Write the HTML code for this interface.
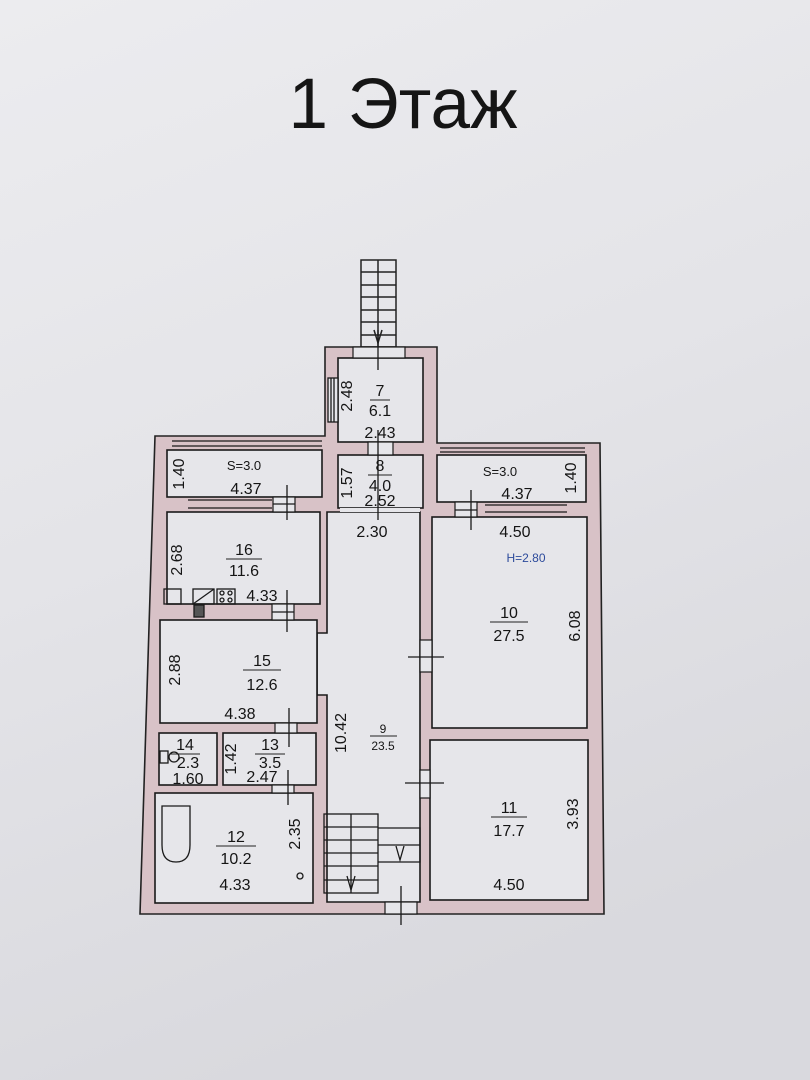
<!DOCTYPE html>
<html><head><meta charset="utf-8"><style>
html,body{margin:0;padding:0;width:810px;height:1080px;overflow:hidden}
svg{display:block}
text{font-family:"Liberation Sans",sans-serif;fill:#151515}
</style></head><body>
<svg width="810" height="1080" viewBox="0 0 810 1080" xmlns="http://www.w3.org/2000/svg">
<defs>
<linearGradient id="bg" x1="0" y1="0" x2="0.3" y2="1">
<stop offset="0" stop-color="#ececef"/><stop offset="0.5" stop-color="#e4e4e8"/><stop offset="1" stop-color="#d9d9de"/>
</linearGradient>
</defs>
<rect width="810" height="1080" fill="url(#bg)"/>
<text x="403" y="128" font-size="71" text-anchor="middle">1 Этаж</text>

<g stroke="#222" stroke-width="1.5" fill="none">
<rect x="361" y="260" width="35" height="87"/>
<line x1="378" y1="260" x2="378" y2="347"/>
<line x1="361" y1="272" x2="396" y2="272"/><line x1="361" y1="285" x2="396" y2="285"/>
<line x1="361" y1="297" x2="396" y2="297"/><line x1="361" y1="310" x2="396" y2="310"/>
<line x1="361" y1="322" x2="396" y2="322"/><line x1="361" y1="335" x2="396" y2="335"/>
<polyline points="374,330 378,343 382,330"/>
</g>

<polygon points="155,436 325,436 325,347 437,347 437,443 600,443 604,914 140,914" fill="#d8c2c7" stroke="#222" stroke-width="1.6"/>
<g fill="#e6e6ea" stroke="#1a1a1a" stroke-width="1.6">
<rect x="338" y="358" width="85" height="84"/>
<rect x="167" y="450" width="155" height="47"/>
<rect x="338" y="455" width="85" height="53"/>
<rect x="437" y="455" width="149" height="47"/>
<rect x="167" y="512" width="153" height="92"/>
<polygon points="327,512 420,512 420,902 327,902 327,695 317,695 317,633 327,633"/>
<rect x="432" y="517" width="155" height="211"/>
<rect x="430" y="740" width="158" height="160"/>
<rect x="160" y="620" width="157" height="103"/>
<rect x="159" y="733" width="58" height="52"/>
<rect x="223" y="733" width="93" height="52"/>
<rect x="155" y="793" width="158" height="110"/>
</g>
<g fill="#e6e6ea" stroke="#1a1a1a" stroke-width="1.2">
<rect x="353" y="347" width="52" height="11"/>
<rect x="368" y="442" width="25" height="13"/>
<rect x="340" y="508" width="80" height="4" stroke="none"/>
<rect x="273" y="497" width="22" height="15"/>
<rect x="455" y="502" width="22" height="15"/>
<rect x="272" y="604" width="22" height="16"/>
<rect x="420" y="640" width="12" height="32"/>
<rect x="420" y="770" width="10" height="28"/>
<rect x="275" y="723" width="22" height="10"/>
<rect x="272" y="785" width="22" height="8"/>
<rect x="385" y="902" width="32" height="12"/>
</g>
<g stroke="#1a1a1a" stroke-width="1.3" fill="none">
<line x1="172" y1="441" x2="322" y2="441"/><line x1="172" y1="446" x2="322" y2="446"/>
<line x1="188" y1="500" x2="272" y2="500"/><line x1="188" y1="508" x2="272" y2="508"/>
<line x1="440" y1="448" x2="585" y2="448"/><line x1="440" y1="452" x2="585" y2="452"/>
<line x1="485" y1="505" x2="567" y2="505"/><line x1="485" y1="512" x2="567" y2="512"/>
<rect x="328" y="378" width="10" height="44" fill="#e6e6ea"/>
<line x1="331" y1="378" x2="331" y2="422"/><line x1="334" y1="378" x2="334" y2="422"/>
<line x1="378" y1="330" x2="378" y2="370"/>
<line x1="378" y1="430" x2="378" y2="520"/>
<line x1="287" y1="485" x2="287" y2="520"/><line x1="273" y1="504" x2="295" y2="504"/>
<line x1="471" y1="490" x2="471" y2="530"/><line x1="455" y1="510" x2="477" y2="510"/>
<line x1="287" y1="590" x2="287" y2="632"/><line x1="272" y1="612" x2="294" y2="612"/>
<line x1="408" y1="657" x2="444" y2="657"/>
<line x1="405" y1="783" x2="444" y2="783"/>
<line x1="289" y1="708" x2="289" y2="747"/>
<line x1="288" y1="770" x2="288" y2="805"/>
<line x1="401" y1="886" x2="401" y2="925"/>
<rect x="324" y="814" width="54" height="79"/>
<line x1="351" y1="814" x2="351" y2="893"/>
<line x1="324" y1="827" x2="378" y2="827"/><line x1="324" y1="840" x2="378" y2="840"/>
<line x1="324" y1="853" x2="378" y2="853"/><line x1="324" y1="866" x2="378" y2="866"/>
<line x1="324" y1="880" x2="378" y2="880"/>
<polyline points="378,828 420,828 420,862 378,862"/>
<line x1="378" y1="845" x2="420" y2="845"/>
<polyline points="347,876 351,890 355,876"/>
<polyline points="396,846 400,860 404,846"/>
<path d="M162,806 H190 V845 Q190,862 176,862 Q162,862 162,845 Z"/>
<rect x="160" y="751" width="8" height="12"/><circle cx="174" cy="757" r="5"/>
<rect x="164" y="589" width="17" height="15"/>
<rect x="193" y="589" width="21" height="15"/><line x1="193" y1="604" x2="214" y2="589"/>
<rect x="217" y="589" width="18" height="15"/>
<circle cx="222" cy="593" r="2"/><circle cx="230" cy="593" r="2"/><circle cx="222" cy="600" r="2"/><circle cx="230" cy="600" r="2"/>
<rect x="194" y="605" width="10" height="12" fill="#555"/>
<circle cx="300" cy="876" r="3"/>
</g>

<g font-size="16" text-anchor="middle">
<text x="380" y="396">7</text><line x1="370" y1="400" x2="390" y2="400" stroke="#222"/><text x="380" y="416">6.1</text>
<text x="380" y="438">2.43</text>
<text x="380" y="471">8</text><line x1="368" y1="475" x2="392" y2="475" stroke="#222"/><text x="380" y="491">4.0</text>
<text x="380" y="506">2.52</text>
<text x="372" y="537">2.30</text>
<text x="244" y="470" font-size="13">S=3.0</text>
<text x="246" y="494">4.37</text>
<text x="500" y="476" font-size="13">S=3.0</text>
<text x="517" y="499">4.37</text>
<text x="515" y="537">4.50</text>
<text x="526" y="562" font-size="12" style="fill:#2d4b9c">H=2.80</text>
<text x="244" y="555">16</text><line x1="226" y1="559" x2="262" y2="559" stroke="#222"/><text x="244" y="576">11.6</text>
<text x="262" y="601">4.33</text>
<text x="509" y="618">10</text><line x1="490" y1="622" x2="528" y2="622" stroke="#222"/><text x="509" y="641">27.5</text>
<text x="262" y="666">15</text><line x1="243" y1="670" x2="281" y2="670" stroke="#222"/><text x="262" y="690">12.6</text>
<text x="240" y="719">4.38</text>
<text x="383" y="733" font-size="12">9</text><line x1="370" y1="736" x2="397" y2="736" stroke="#222"/><text x="383" y="750" font-size="12">23.5</text>
<text x="185" y="750">14</text><line x1="170" y1="754" x2="200" y2="754" stroke="#222"/><text x="188" y="768">2.3</text>
<text x="188" y="784">1.60</text>
<text x="270" y="750">13</text><line x1="255" y1="754" x2="285" y2="754" stroke="#222"/><text x="270" y="768">3.5</text>
<text x="262" y="782">2.47</text>
<text x="509" y="813">11</text><line x1="491" y1="817" x2="527" y2="817" stroke="#222"/><text x="509" y="836">17.7</text>
<text x="509" y="890">4.50</text>
<text x="236" y="842">12</text><line x1="216" y1="846" x2="256" y2="846" stroke="#222"/><text x="236" y="864">10.2</text>
<text x="235" y="890">4.33</text>
</g>
<g font-size="16" text-anchor="middle">
<text transform="translate(352,396) rotate(-90)">2.48</text>
<text transform="translate(184,474) rotate(-90)">1.40</text>
<text transform="translate(352,483) rotate(-90)">1.57</text>
<text transform="translate(576,478) rotate(-90)">1.40</text>
<text transform="translate(182,560) rotate(-90)">2.68</text>
<text transform="translate(580,626) rotate(-90)">6.08</text>
<text transform="translate(180,670) rotate(-90)">2.88</text>
<text transform="translate(346,733) rotate(-90)">10.42</text>
<text transform="translate(236,759) rotate(-90)">1.42</text>
<text transform="translate(578,814) rotate(-90)">3.93</text>
<text transform="translate(300,834) rotate(-90)">2.35</text>
</g>
</svg>
</body></html>
